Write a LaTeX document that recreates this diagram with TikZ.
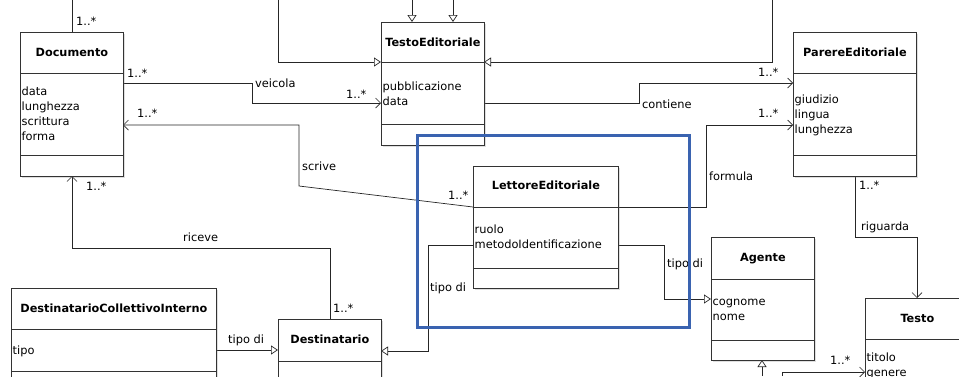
\documentclass[tikz,border=0pt]{standalone}
\usepackage{fontspec}
\setmainfont{DejaVu Sans}
\usetikzlibrary{arrows.meta,shadows}
\definecolor{frameblue}{HTML}{3A63B0}
\begin{document}
\begin{tikzpicture}[x=1pt,y=-1pt,
    every node/.style={font=\fontsize{11.4}{13}\selectfont,inner sep=0pt},
    umlclass/.style={draw=black!80,line width=0.8pt,fill=white,anchor=north west,
      drop shadow={shadow xshift=1.5pt,shadow yshift=-1.5pt,opacity=0.25}},
    ctitle/.style={anchor=base,font=\fontsize{11.3}{13}\selectfont\bfseries},
    attr/.style={anchor=base west},
    lbl/.style={anchor=base west},
    sep/.style={draw=black!80,line width=0.8pt},
    plain/.style={draw=black!85,line width=0.7pt},
    assoc/.style={plain,-{Straight Barb[length=5pt,width=10pt]}},
    inherit/.style={plain,-{Triangle[open,length=7pt,width=9pt]}}]
  \useasboundingbox (0,0) rectangle (959,376);
  \clip (0,0) rectangle (959,376);

  % free ends at the border of the picture
  \coordinate (topA) at (72,0);
  \coordinate (topB) at (278,0);
  \coordinate (topC) at (772,0);
  \coordinate (topD) at (412,0);
  \coordinate (topE) at (453,0);
  \coordinate (botA) at (762,376);
  \coordinate (botB) at (782,376);

  % connectors
  \draw[plain] (topA) -- (topA |- 0,32);
  \draw[inherit] (topD) -- (topD |- 0,22);
  \draw[inherit] (topE) -- (topE |- 0,22);
  \draw[inherit] (topB) |- (381,62);
  \draw[inherit] (topC) |- (484,62);
  \draw[assoc] (123,83) -- (252,83) |- (381,103);
  \draw[assoc] (473,207) -- (299,186) |- (123,125);
  \draw[assoc] (484,103) -| (639,83) -- (793,83);
  \draw[assoc] (618,207) -| (706,125) -- (793,125);
  \draw[assoc] (855,176) |- (917,237) -- (917,298);
  \draw[assoc] (330,319) |- (72,248) -- (72,176);
  \draw[inherit] (216,350) -- (278,350);
  \draw[inherit] (473,245) -| (428,351) -- (381,351);
  \draw[inherit] (618,245) -| (664,299) -- (711,299);
  \draw[inherit] (botA) -- (762,360);
  \draw[assoc] (botB) |- (865,372);

  % classes
  \node[umlclass,minimum width=103pt,minimum height=144pt] (doc) at (20,32) {};
  \draw[sep] (doc.west |- 0,73) -- (doc.east |- 0,73);
  \draw[sep] (doc.west |- 0,155) -- (doc.east |- 0,155);
  \node[ctitle] (doct) at (doc.north |- 0,56.5) {Documento};
  \foreach \a [count=\i] in {data,lunghezza,scrittura,forma}
    \node[attr] (doca\i) at (21.5,80+15*\i) {\a};

  \node[umlclass,minimum width=103pt,minimum height=123pt] (testoed) at (381,22) {};
  \draw[sep] (testoed.west |- 0,62) -- (testoed.east |- 0,62);
  \draw[sep] (testoed.west |- 0,124) -- (testoed.east |- 0,124);
  \node[ctitle] (testoedt) at (testoed.north |- 0,46.5) {TestoEditoriale};
  \foreach \a [count=\i] in {pubblicazione,data}
    \node[attr] (testoeda\i) at (382.5,75+15*\i) {\a};

  \node[umlclass,minimum width=123pt,minimum height=144pt] (parere) at (793,32) {};
  \draw[sep] (parere.west |- 0,73) -- (parere.east |- 0,73);
  \draw[sep] (parere.west |- 0,155) -- (parere.east |- 0,155);
  \node[ctitle] (pareret) at (parere.north |- 0,56.5) {ParereEditoriale};
  \foreach \a [count=\i] in {giudizio,lingua,lunghezza}
    \node[attr] (parerea\i) at (794.5,88+15*\i) {\a};

  \node[umlclass,minimum width=145pt,minimum height=122pt] (lettore) at (473,166) {};
  \draw[sep] (lettore.west |- 0,207) -- (lettore.east |- 0,207);
  \draw[sep] (lettore.west |- 0,268) -- (lettore.east |- 0,268);
  \node[ctitle] (lettoret) at (lettore.north |- 0,189.5) {LettoreEditoriale};
  \foreach \a [count=\i] in {ruolo,metodoIdentificazione}
    \node[attr] (lettorea\i) at (474.5,218+15*\i) {\a};

  \node[umlclass,minimum width=103pt,minimum height=123pt] (agente) at (711,237) {};
  \draw[sep] (agente.west |- 0,279) -- (agente.east |- 0,279);
  \draw[sep] (agente.west |- 0,340) -- (agente.east |- 0,340);
  \node[ctitle] (agentet) at (agente.north |- 0,261.5) {Agente};
  \foreach \a [count=\i] in {cognome,nome}
    \node[attr] (agentea\i) at (712.5,290+15*\i) {\a};

  \node[umlclass,minimum width=104pt,minimum height=110pt] (testo) at (865,298) {};
  \draw[sep] (testo.west |- 0,339) -- (testo.east |- 0,339);
  \node[ctitle] (testot) at (testo.north |- 0,322.5) {Testo};
  \foreach \a [count=\i] in {titolo,genere}
    \node[attr] (testoa\i) at (866.5,346+15*\i) {\a};

  \node[umlclass,minimum width=103pt,minimum height=80pt] (destin) at (278,319) {};
  \draw[sep] (destin.west |- 0,361) -- (destin.east |- 0,361);
  \node[ctitle] (destint) at (destin.north |- 0,343.5) {Destinatario};

  \node[umlclass,minimum width=205pt,minimum height=110pt] (dci) at (11,288) {};
  \draw[sep] (dci.west |- 0,329) -- (dci.east |- 0,329);
  \draw[sep] (dci.west |- 0,371) -- (dci.east |- 0,371);
  \node[ctitle] (dcit) at (dci.north |- 0,312.5) {DestinatarioCollettivoInterno};
  \node[attr] (dcia1) at (12.5,354) {tipo};

  % labels
  \node[lbl] (m1) at (76,25) {1..*};
  \node[lbl] (m2) at (127,77) {1..*};
  \node[lbl] (veicola) at (255,87) {veicola};
  \node[lbl] (m3) at (346,98) {1..*};
  \node[lbl] (m4) at (137,117) {1..*};
  \node[lbl] (scrive) at (302,170) {scrive};
  \node[lbl] (m5) at (448,199) {1..*};
  \node[lbl] (contiene) at (642,108) {contiene};
  \node[lbl] (m6) at (758,76) {1..*};
  \node[lbl] (m7) at (758,117) {1..*};
  \node[lbl] (formula) at (709,180) {formula};
  \node[lbl] (m8) at (859,189) {1..*};
  \node[lbl] (riguarda) at (861,230) {riguarda};
  \node[lbl] (m9) at (86,190) {1..*};
  \node[lbl] (riceve) at (183,241) {riceve};
  \node[lbl] (m10) at (333,312) {1..*};
  \node[lbl] (tipodi1) at (228,343) {tipo di};
  \node[lbl] (tipodi2) at (430,291) {tipo di};
  \node[lbl] (tipodi3) at (667,267) {tipo di};
  \node[lbl] (m11) at (830,364) {1..*};

  % highlight
  \draw[frameblue,line width=3pt] (417,135) rectangle (689,327);
\end{tikzpicture}
\end{document}
